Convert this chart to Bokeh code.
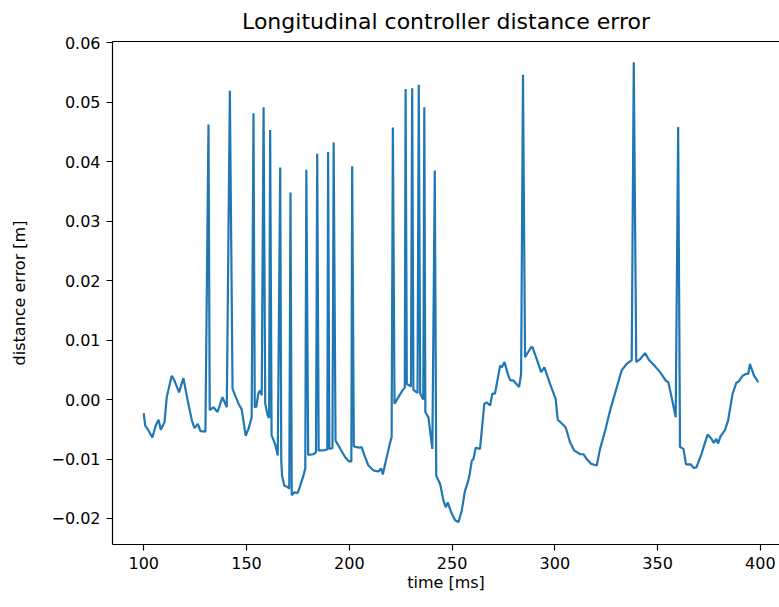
from bokeh.plotting import figure
from bokeh.models import Range1d, LinearAxis, FixedTicker, CustomJSTickFormatter
from bokeh.embed import file_html
from bokeh.resources import INLINE

time_ms = [
    100.0, 100.7, 102.3, 104.2, 105.8, 107.2, 108.3, 110.1, 111.2, 113.6,
    114.9, 117.2, 119.3, 121.4, 123.4, 124.7, 126.3, 127.6, 130.0, 131.5,
    132.1, 133.9, 135.9, 138.3, 140.4, 141.9, 143.2, 146.1, 147.7, 149.6,
    151.0, 152.5, 153.4, 154.0, 154.8, 155.7, 156.6, 157.4, 158.3, 159.1,
    160.3, 161.0, 161.5, 162.2, 163.9, 165.2, 166.4, 166.9, 167.3, 168.4,
    170.0, 170.8, 171.4, 172.0, 173.3, 174.9, 176.1, 177.7, 178.6, 179.1,
    180.0, 182.5, 183.8, 184.4, 185.1, 187.9, 189.3, 189.7, 190.3, 191.8,
    192.4, 193.3, 194.7, 196.3, 198.0, 199.9, 201.0, 201.4, 202.2, 204.8,
    206.0, 207.7, 209.3, 211.7, 214.2, 215.5, 216.3, 218.2, 219.9, 220.6,
    221.2, 222.0, 223.9, 225.8, 227.0, 227.4, 228.0, 230.0, 230.6, 231.2,
    233.2, 233.8, 234.5, 236.0, 236.5, 237.0, 238.5, 240.4, 241.6, 242.3,
    244.2, 245.8, 246.9, 247.9, 249.5, 251.5, 253.1, 254.7, 256.3, 257.7,
    258.6, 259.6, 260.4, 261.5, 263.6, 265.7, 266.9, 268.5, 269.6, 270.9,
    273.4, 274.2, 275.5, 277.1, 278.3, 279.8, 282.6, 283.6, 284.5, 285.5,
    288.5, 289.1, 291.2, 293.3, 294.9, 297.7, 300.4, 301.4, 303.3, 305.3,
    307.4, 309.5, 312.4, 313.9, 315.5, 317.6, 320.4, 322.0, 324.5, 326.9,
    329.0, 330.6, 332.5, 335.0, 337.4, 338.4, 339.6, 341.5, 343.9, 345.9,
    348.4, 351.2, 353.9, 355.2, 356.8, 358.8, 360.0, 360.9, 362.6, 363.8,
    366.0, 367.6, 368.9, 371.4, 374.3, 376.2, 377.3, 378.6, 379.4, 380.6,
    382.7, 384.3, 386.5, 388.4, 389.2, 391.4, 393.0, 394.1, 394.9, 396.9,
    399.0,
]

distance_error = [
    -0.0023, -0.0044, -0.0052, -0.0064, -0.0044, -0.0034, -0.0051, -0.0038, 0.0004, 0.0040,
    0.0032, 0.0012, 0.0036, -0.0002, -0.0035, -0.0048, -0.0041, -0.0053, -0.0054, 0.0462,
    -0.0018, -0.0013, -0.0021, 0.0004, -0.0013, 0.0519, 0.0018, -0.0007, -0.0017, -0.0061,
    -0.0049, -0.0030, 0.0481, -0.0013, -0.0012, 0.0010, 0.0015, 0.0007, 0.0491, -0.0007,
    -0.0027, -0.0031, 0.0453, -0.0060, -0.0075, -0.0094, 0.0390, -0.0103, -0.0128, -0.0145,
    -0.0147, -0.0150, 0.0348, -0.0161, -0.0156, -0.0157, -0.0145, -0.0128, -0.0115, 0.0386,
    -0.0093, -0.0092, -0.0089, 0.0413, -0.0086, -0.0085, -0.0084, 0.0416, -0.0083, -0.0082,
    0.0432, -0.0069, -0.0077, -0.0087, -0.0097, -0.0104, -0.0104, 0.0392, -0.0079, -0.0081,
    -0.0080, -0.0097, -0.0111, -0.0119, -0.0121, -0.0116, -0.0126, -0.0097, -0.0072, -0.0063,
    0.0457, -0.0007, 0.0004, 0.0015, 0.0020, 0.0522, 0.0026, 0.0022, 0.0523, 0.0016,
    0.0011, 0.0529, 0.0010, 0.0000, 0.0491, -0.0021, -0.0030, -0.0083, 0.0385, -0.0128,
    -0.0142, -0.0170, -0.0181, -0.0173, -0.0189, -0.0203, -0.0206, -0.0187, -0.0153, -0.0139,
    -0.0125, -0.0103, -0.0100, -0.0081, -0.0083, -0.0007, -0.0005, -0.0010, 0.0010, 0.0010,
    0.0057, 0.0054, 0.0063, 0.0043, 0.0032, 0.0032, 0.0021, 0.0043, 0.0546, 0.0071,
    0.0088, 0.0088, 0.0068, 0.0046, 0.0054, 0.0026, 0.0001, -0.0034, -0.0040, -0.0047,
    -0.0072, -0.0086, -0.0092, -0.0092, -0.0100, -0.0108, -0.0111, -0.0083, -0.0052, -0.0018,
    0.0007, 0.0026, 0.0049, 0.0060, 0.0066, 0.0567, 0.0063, 0.0068, 0.0078, 0.0066,
    0.0057, 0.0046, 0.0032, 0.0029, 0.0004, -0.0030, 0.0458, -0.0080, -0.0083, -0.0109,
    -0.0109, -0.0115, -0.0114, -0.0091, -0.0059, -0.0066, -0.0073, -0.0066, -0.0074, -0.0062,
    -0.0052, -0.0035, 0.0010, 0.0029, 0.0029, 0.0040, 0.0043, 0.0043, 0.0060, 0.0040,
    0.0029,
]

x_ticks = [100, 150, 200, 250, 300, 350, 400]
y_ticks = [-0.02, -0.01, 0.0, 0.01, 0.02, 0.03, 0.04, 0.05, 0.06]

title_text = "Longitudinal controller distance error"
x_label = "time [ms]"
y_label = "distance error [m]"

FONT = "DejaVu Sans"

p = figure(
    width=779, height=607,
    output_backend="svg", toolbar_location=None,
    x_range=Range1d(84.8, 409.3),
    y_range=Range1d(-0.02437, 0.06017),
    min_border_left=112, min_border_right=0,
    min_border_top=41, min_border_bottom=63,
    title=title_text,
)
p.title.align = "center"
p.title.vertical_align = "top"
p.title.text_font = FONT
p.title.text_font_size = "22px"
p.title.text_font_style = "normal"
p.title.text_color = "black"
p.title.standoff = 12

p.outline_line_color = None
p.background_fill_color = "white"
p.border_fill_color = "white"
p.xgrid.grid_line_color = None
p.ygrid.grid_line_color = None

p.line(time_ms, distance_error, line_color="#1f77b4", line_width=2.2)

p.xaxis.ticker = FixedTicker(ticks=x_ticks)
p.yaxis.ticker = FixedTicker(ticks=y_ticks)
p.yaxis.formatter = CustomJSTickFormatter(
    code="return (tick < -1e-9 ? '\u2212' : '') + Math.abs(tick).toFixed(2);"
)
p.xaxis.axis_label = x_label
p.yaxis.axis_label = y_label

for ax in (p.xaxis[0], p.yaxis[0]):
    ax.axis_line_color = "black"
    ax.axis_line_width = 1.2
    ax.major_tick_line_color = "black"
    ax.major_tick_line_width = 1.2
    ax.major_tick_out = 6
    ax.major_tick_in = 0
    ax.minor_tick_out = 0
    ax.minor_tick_in = 0
    ax.major_label_text_font = FONT
    ax.major_label_text_font_size = "16px"
    ax.major_label_text_color = "black"
    ax.major_label_standoff = 6
    ax.axis_label_text_font = FONT
    ax.axis_label_text_font_size = "16px"
    ax.axis_label_text_font_style = "normal"
    ax.axis_label_text_color = "black"

p.xaxis[0].axis_label_standoff = 1
p.yaxis[0].axis_label_standoff = 19

top = LinearAxis(
    ticker=FixedTicker(ticks=[]),
    major_tick_out=0, major_tick_in=0, minor_tick_out=0, minor_tick_in=0,
    major_label_text_font_size="0px", major_label_standoff=0,
    axis_label_standoff=0,
    axis_line_color="black", axis_line_width=1.2,
)
p.add_layout(top, "above")

open("out.html", "w").write(file_html(p, INLINE))
